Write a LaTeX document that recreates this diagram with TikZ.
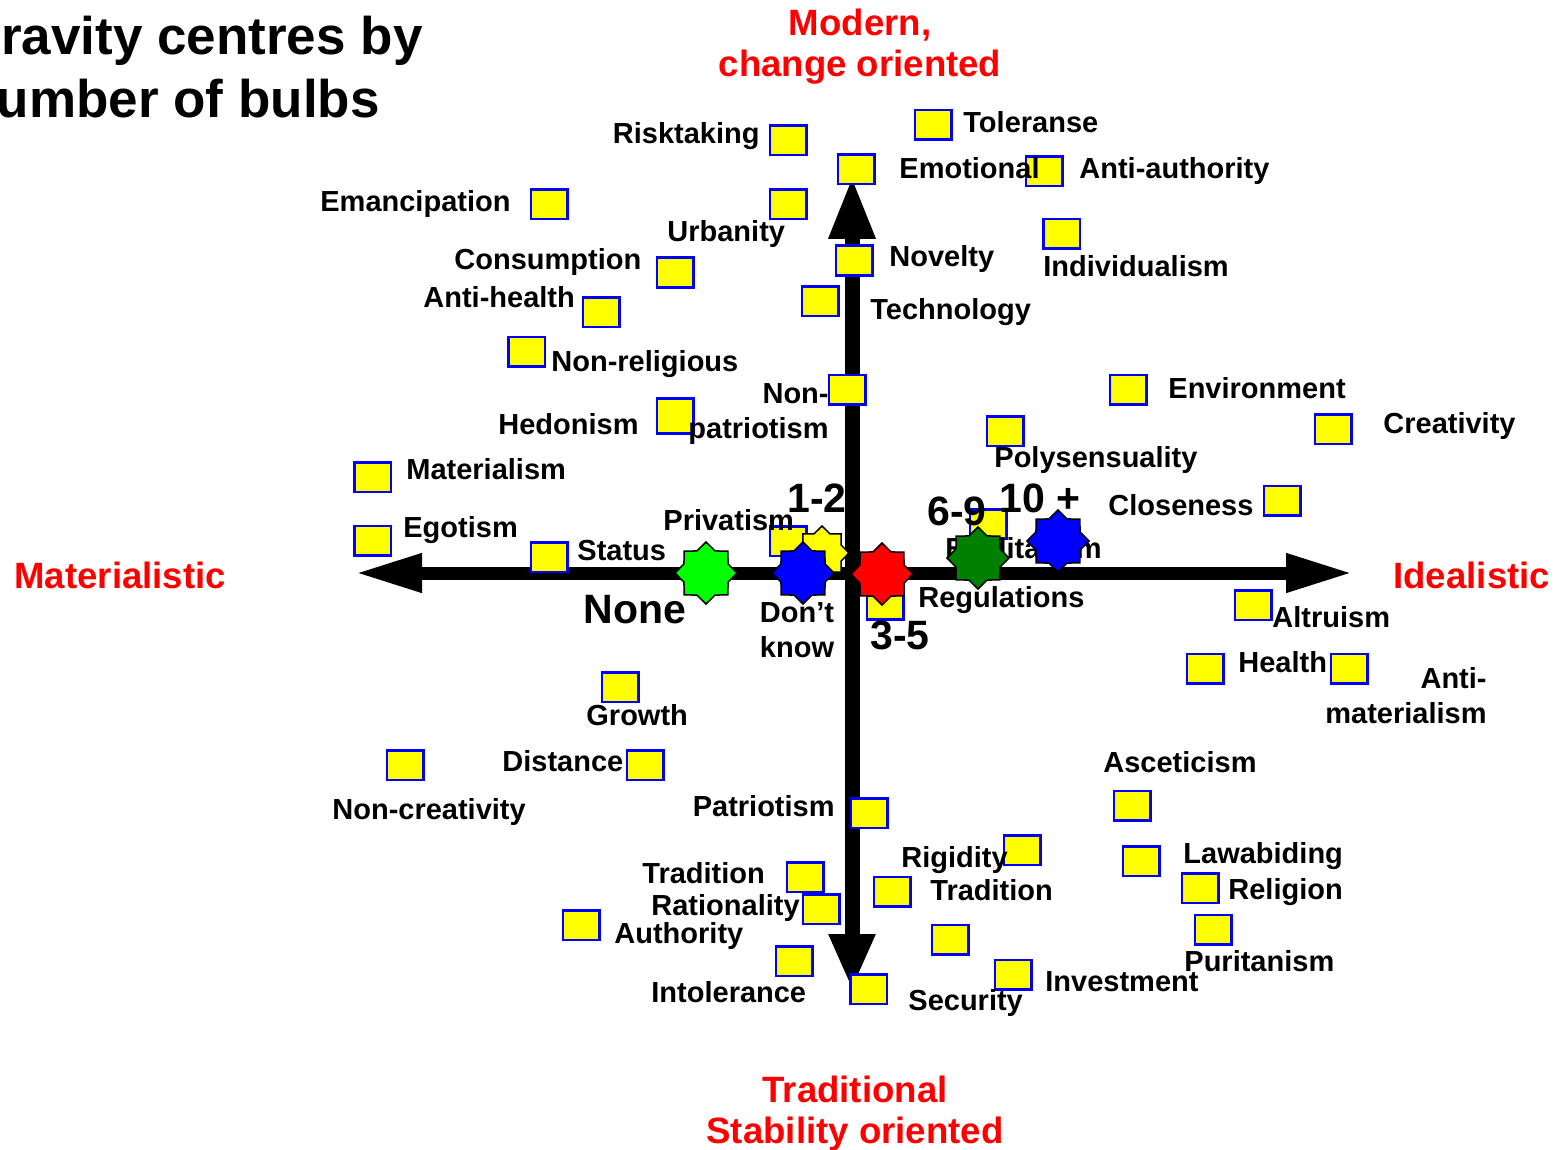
\documentclass[tikz,border=0pt]{standalone}
\usepackage{fontspec}
\setmainfont{Liberation Sans}
\usetikzlibrary{shapes.geometric, arrows.meta}

\definecolor{bulbyellow}{RGB}{255,255,0}
\definecolor{bulbblue}{RGB}{0,0,255}
\definecolor{axisred}{RGB}{255,0,0}
\definecolor{darkgrn}{RGB}{0,128,0}
\definecolor{litegrn}{RGB}{0,255,0}

\tikzset{
	bulb/.style={draw=bulbblue, fill=bulbyellow, line width=1.25pt, minimum width=18.25pt, minimum height=14.75pt, inner sep=0pt},
	lbl/.style={font=\fontsize{14.5}{17.5}\selectfont\bfseries, inner sep=0pt},
	numlbl/.style={font=\fontsize{20.5}{24}\selectfont\bfseries, inner sep=0pt},
	axlbl/.style={font=\fontsize{18.3}{20.5}\selectfont\bfseries, text=axisred, inner sep=0pt},
	titletxt/.style={font=\fontsize{26.5}{32}\selectfont\bfseries, inner sep=0pt},
	grav/.style={star, star points=8, star point ratio=1.3, draw=black, line width=0.75pt, minimum size=31pt, inner sep=0pt}
}

\begin{document}
\begin{tikzpicture}[x=0.5pt, y=-0.5pt]
			\useasboundingbox (0,0) rectangle (1557,1150);
			\clip (0,0) rectangle (1557,1150);
			
			\node[titletxt, anchor=base east] (title1) at (423,55) {Gravity centres by};
			\node[titletxt, anchor=base east] (title2) at (380,118) {number of bulbs};
			
			% axes
			\coordinate (W) at (355,573);
			\coordinate (E) at (1353,573);
			\coordinate (N) at (852,176);
			\coordinate (S) at (852,990);
			\draw[line width=6.5pt, {Triangle[length=33.5pt, width=18pt]}-{Triangle[length=33.5pt, width=18pt]}] (W) -- (E);
			\draw[line width=7.5pt, {Triangle[length=31.5pt, width=21.5pt]}-{Triangle[length=28pt, width=21.5pt]}] (N) -- (S);
			
			\node[axlbl, align=center, anchor=base] (modern) at (860,77) {Modern,\\change oriented};
			\node[axlbl, align=center, anchor=base] (tradit) at (855,1143) {Traditional\\Stability oriented};
			\node[axlbl, anchor=base west] (materl) at (14,588) {Materialistic};
			\node[axlbl, anchor=base west] (ideal) at (1393,588) {Idealistic};
			
			% bulbs
			\node[bulb] (risk) at (788,140.5) {};
			\node[bulb] (toler) at (933,125) {};
			\node[bulb] (emot) at (856,169.5) {};
			\node[bulb] (antiauth) at (1044,171.5) {};
			\node[bulb] (emanc) at (549,204.5) {};
			\node[bulb] (urban) at (788,204.5) {};
			\node[bulb] (indiv) at (1061.5,234) {};
			\node[bulb] (novel) at (854,260.5) {};
			\node[bulb] (consum) at (675,272.5) {};
			\node[bulb] (antihealth) at (601,312) {};
			\node[bulb] (techno) at (820,301) {};
			\node[bulb] (nonrelig) at (526.5,351.5) {};
			\node[bulb] (nonpatr) at (847,389.5) {};
			\node[bulb, minimum height=17.5pt] (hedon) at (675,416) {};
			\node[bulb] (envir) at (1128,389.5) {};
			\node[bulb] (creat) at (1333,429) {};
			\node[bulb] (polysens) at (1005,431) {};
			\node[bulb] (mater) at (372.5,477) {};
			\node[bulb] (close) at (1282,500.5) {};
			\node[bulb] (egot) at (372.5,540.5) {};
			\node[bulb] (status) at (549,557) {};
			\node[bulb] (privat) at (788,541) {};
			\node[bulb] (egalit) at (988,524) {};
			\node[bulb] (regul) at (885,604.5) {};
			\node[bulb] (altru) at (1253,605) {};
			\node[bulb] (health) at (1205,668.5) {};
			\node[bulb] (antimat) at (1349,668.5) {};
			\node[bulb] (growth) at (620,687) {};
			\node[bulb] (noncreat) at (405,765) {};
			\node[bulb] (dist) at (645,765) {};
			\node[bulb] (ascet) at (1132,805.5) {};
			\node[bulb] (patr) at (869,813) {};
			\node[bulb] (rigid) at (1022,850) {};
			\node[bulb] (lawab) at (1141,861) {};
			\node[bulb] (tradL) at (805,877) {};
			\node[bulb] (tradR) at (892,891.5) {};
			\node[bulb] (relig) at (1200,888) {};
			\node[bulb] (ration) at (821,909) {};
			\node[bulb] (author) at (581,925) {};
			\node[bulb] (purit) at (1213,929.5) {};
			\node[bulb] (secur2) at (950,939.5) {};
			\node[bulb] (intol) at (794,961) {};
			\node[bulb] (invest) at (1013,974.5) {};
			\node[bulb] (secur) at (868.5,989) {};
			
			% labels
			\node[lbl, anchor=base east] (risk-l) at (760,144) {Risktaking};
			\node[lbl, anchor=base west] (toler-l) at (963,133) {Toleranse};
			\node[lbl, anchor=base west] (emot-l) at (899,179) {Emotional};
			\node[lbl, anchor=base west] (antiauth-l) at (1079,179) {Anti-authority};
			\node[lbl, anchor=base west] (emanc-l) at (320,212) {Emancipation};
			\node[lbl, anchor=base west] (urban-l) at (667,242) {Urbanity};
			\node[lbl, anchor=base west] (indiv-l) at (1043,277) {Individualism};
			\node[lbl, anchor=base west] (novel-l) at (889,266) {Novelty};
			\node[lbl, anchor=base west] (consum-l) at (454,270) {Consumption};
			\node[lbl, anchor=base west] (antihealth-l) at (423,307) {Anti-health};
			\node[lbl, anchor=base west] (techno-l) at (870,319) {Technology};
			\node[lbl, anchor=base west] (nonrelig-l) at (551,371) {Non-religious};
			\node[lbl, align=right, anchor=base east] (nonpatr-l) at (829,438) {Non-\\patriotism};
			\node[lbl, anchor=base west] (hedon-l) at (498,434) {Hedonism};
			\node[lbl, anchor=base west] (envir-l) at (1168,398) {Environment};
			\node[lbl, anchor=base west] (creat-l) at (1383,433) {Creativity};
			\node[lbl, anchor=base west] (polysens-l) at (994,467) {Polysensuality};
			\node[lbl, anchor=base west] (mater-l) at (406,479) {Materialism};
			\node[lbl, anchor=base west] (close-l) at (1108,515) {Closeness};
			\node[lbl, anchor=base west] (egot-l) at (403,537) {Egotism};
			\node[lbl, anchor=base west] (status-l) at (577,560) {Status};
			\node[lbl, anchor=base west] (privat-l) at (663,530) {Privatism};
			\node[lbl, anchor=base west] (egalit-l) at (945,558) {Egalitarism};
			\node[lbl, anchor=base west] (regul-l) at (918,607) {Regulations};
			\node[lbl, anchor=base west] (altru-l) at (1272,627) {Altruism};
			\node[lbl, anchor=base west] (health-l) at (1238,672) {Health};
			\node[lbl, align=right, anchor=base east] (antimat-l) at (1487,723) {Anti-\\materialism};
			\node[lbl, anchor=base west] (growth-l) at (586,725) {Growth};
			\node[lbl, anchor=base west] (noncreat-l) at (332,819) {Non-creativity};
			\node[lbl, anchor=base west] (dist-l) at (502,771) {Distance};
			\node[lbl, anchor=base west] (ascet-l) at (1103,772) {Asceticism};
			\node[lbl, anchor=base east] (patr-l) at (835,816) {Patriotism};
			\node[lbl, anchor=base west] (rigid-l) at (901,867) {Rigidity};
			\node[lbl, anchor=base west] (lawab-l) at (1183,863) {Lawabiding};
			\node[lbl, anchor=base west] (tradL-l) at (642,883) {Tradition};
			\node[lbl, anchor=base west] (tradR-l) at (930,900) {Tradition};
			\node[lbl, anchor=base west] (relig-l) at (1228,899) {Religion};
			\node[lbl, anchor=base west] (ration-l) at (651,915) {Rationality};
			\node[lbl, anchor=base west] (author-l) at (614,943) {Authority};
			\node[lbl, anchor=base west] (purit-l) at (1184,971) {Puritanism};
			\node[lbl, anchor=base west] (intol-l) at (651,1002) {Intolerance};
			\node[lbl, anchor=base west] (invest-l) at (1045,991) {Investment};
			\node[lbl, anchor=base west] (secur-l) at (908,1010) {Security};
			
			% gravity centres
			\node[grav, fill=litegrn] (none) at (706,573) {};
			\node[grav, fill=bulbyellow, minimum size=27pt] (one2) at (822,553) {};
			\node[grav, fill=bulbblue] (dontknow) at (803,573) {};
			\node[grav, fill=axisred] (three5) at (882,574) {};
			\node[grav, fill=darkgrn] (six9) at (978,558) {};
			\node[grav, fill=bulbblue] (ten) at (1058,541) {};
			
			\node[numlbl, anchor=base west] (none-l) at (583,623) {None};
			\node[numlbl, anchor=base west] (one2-l) at (787,512) {1-2};
			\node[numlbl, anchor=base west] (three5-l) at (870,649) {3-5};
			\node[numlbl, anchor=base west] (six9-l) at (927,525) {6-9};
			\node[numlbl, anchor=base west] (ten-l) at (999,512) {10 +};
			\node[lbl, align=center, anchor=base] (dontknow-l) at (797,657) {Don’t\\know};
		\end{tikzpicture}
\end{document}
